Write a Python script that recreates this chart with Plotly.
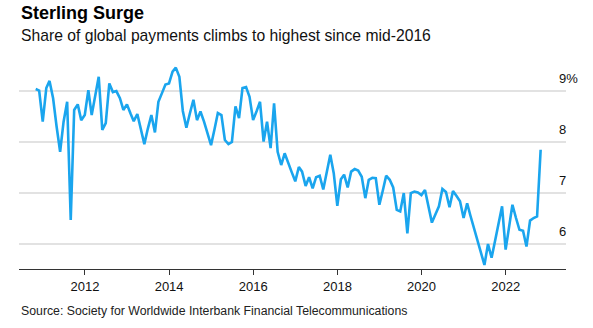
import pandas as pd
import plotly.graph_objects as go

# Monthly share of global payments (%), Oct 2010 - Oct 2022 (month-end)
start_month = "2010-10-01"
share = [
    9.03, 9.00, 8.39, 9.05, 9.19, 8.85, 8.30, 7.80, 8.39, 8.78,
    6.46, 8.62, 8.73, 8.42, 8.52, 9.01, 8.52, 8.90, 9.27, 8.23,
    8.36, 9.14, 8.97, 8.99, 8.85, 8.62, 8.73, 8.55, 8.40, 8.54,
    8.25, 7.95, 8.25, 8.52, 8.18, 8.78, 8.95, 9.12, 9.14, 9.37,
    9.45, 9.27, 8.60, 8.27, 8.55, 8.82, 8.42, 8.59, 8.39, 8.15,
    7.93, 8.25, 8.56, 8.52, 8.03, 7.95, 7.99, 8.69, 8.46, 9.05,
    9.07, 8.88, 8.42, 8.60, 8.78, 8.00, 8.39, 7.87, 8.75, 7.80,
    7.54, 7.77, 7.60, 7.40, 7.22, 7.50, 7.41, 7.13, 7.30, 7.08,
    7.30, 7.33, 7.06, 7.40, 7.74, 7.38, 6.74, 7.26, 7.35, 7.10,
    7.41, 7.46, 7.43, 7.31, 6.89, 7.25, 7.29, 7.28, 6.76, 7.05,
    7.33, 7.25, 7.10, 6.66, 6.63, 6.99, 6.20, 6.99, 7.02, 7.00,
    6.95, 7.05, 6.75, 6.41, 6.57, 6.73, 7.07, 7.01, 6.71, 7.03,
    6.93, 6.83, 6.50, 6.79, 6.55, 6.30, 6.05, 5.80, 5.58, 5.99,
    5.72, 6.05, 6.40, 6.73, 5.88, 6.30, 6.76, 6.50, 6.27, 6.25,
    5.94, 6.45, 6.50, 6.53, 7.84,
]
dates = pd.date_range(start_month, periods=len(share), freq="MS") + pd.offsets.MonthEnd(0)

x_tick_vals = ["2012-01-01", "2014-01-01", "2016-01-01", "2018-01-01", "2020-01-01", "2022-01-01"]
x_tick_text = ["2012", "2014", "2016", "2018", "2020", "2022"]
y_tick_vals = [6, 7, 8, 9]
y_tick_text = ["6", "7", "8", "9%"]

title = "Sterling Surge"
subtitle = "Share of global payments climbs to highest since mid-2016"
source = "Source: Society for Worldwide Interbank Financial Telecommunications"

FONT = "Liberation Sans, Arial, Helvetica, sans-serif"

fig = go.Figure()
fig.add_trace(go.Scatter(
    x=dates, y=share, mode="lines",
    line=dict(color="#1aa5ee", width=2.6),
    hoverinfo="skip", showlegend=False,
))

annotations = [
    dict(text="<b>%s</b>" % title, xref="paper", yref="paper", x=0, y=1.2245,
         xanchor="left", yanchor="middle", showarrow=False,
         font=dict(family=FONT, size=18, color="#000000")),
    dict(text=subtitle, xref="paper", yref="paper", x=0, y=1.115,
         xanchor="left", yanchor="middle", showarrow=False,
         font=dict(family=FONT, size=15.7, color="#111111")),
    dict(text=source, xref="paper", yref="paper", x=0, y=-0.2016,
         xanchor="left", yanchor="middle", showarrow=False,
         font=dict(family=FONT, size=12.3, color="#222222")),
]
for v, t in zip(y_tick_vals, y_tick_text):
    annotations.append(dict(
        text=t, xref="paper", yref="y", x=0.9835, y=v,
        xanchor="left", yanchor="bottom", yshift=3, showarrow=False,
        font=dict(family=FONT, size=13, color="#111111"),
    ))

fig.update_layout(
    width=593, height=328,
    margin=dict(l=19, r=27, t=60, b=59),
    paper_bgcolor="white", plot_bgcolor="white",
    font=dict(family=FONT, size=13, color="#111111"),
    annotations=annotations,
    xaxis=dict(
        type="date", range=["2010-06-08", "2023-06-08"],
        tickvals=x_tick_vals, ticktext=x_tick_text,
        showgrid=False, zeroline=False,
        showline=True, linecolor="#333333", linewidth=1,
        ticks="outside", ticklen=5, tickcolor="#333333", tickwidth=1,
        tickfont=dict(family=FONT, size=13, color="#111111"),
    ),
    yaxis=dict(
        range=[5.5, 9.6], tickvals=y_tick_vals,
        showticklabels=False, showgrid=True, gridcolor="#e2e2e2", gridwidth=1.5,
        zeroline=False, showline=False, ticks="",
    ),
)

fig.write_html("out.html")
